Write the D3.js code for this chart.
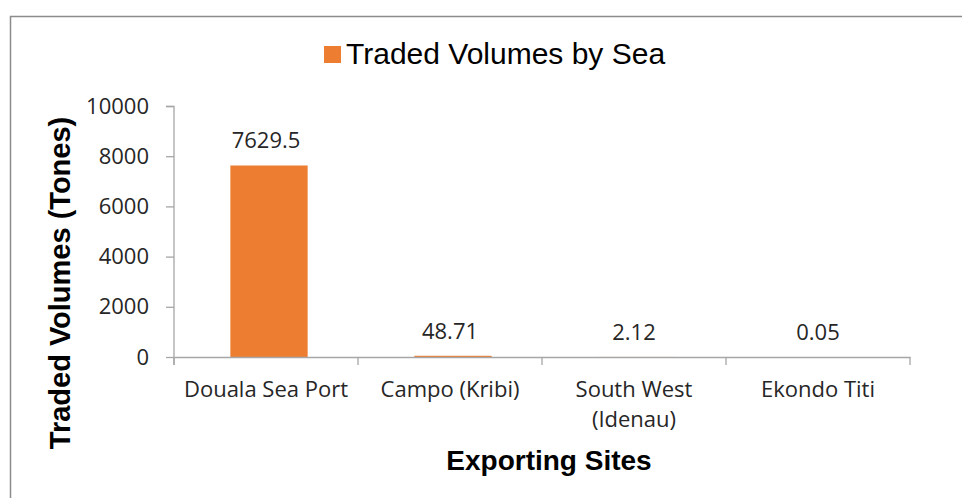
<!DOCTYPE html>
<html>
<head>
<meta charset="utf-8">
<script src="https://cdn.jsdelivr.net/npm/d3@7"></script>
<style>
  body { margin: 0; background: #fff; }
  svg { display: block; }
</style>
</head>
<body>
<div id="chart"></div>
<script>
// Data
var sites = ["Douala Sea Port", "Campo (Kribi)", "South West\n(Idenau)", "Ekondo Titi"];
var volumes = [7629.5, 48.71, 2.12, 0.05];
var volumeLabels = ["7629.5", "48.71", "2.12", "0.05"];
var yTicks = [0, 2000, 4000, 6000, 8000, 10000];

var W = 962, H = 498;
var margin = { top: 106, left: 174 },
    width = 910 - 174,
    height = 357 - 106;

var svg = d3.select("#chart").append("svg")
    .attr("width", W)
    .attr("height", H);

// Chart frame
svg.append("rect")
    .attr("x", 10.5).attr("y", 16.5)
    .attr("width", W).attr("height", H)
    .attr("fill", "none")
    .attr("stroke", "#8c8c8c")
    .attr("stroke-width", 1.5);

var g = svg.append("g")
    .attr("transform", "translate(" + margin.left + "," + margin.top + ")");

var x = d3.scaleBand().domain(sites).range([0, width]).padding(0);
var y = d3.scaleLinear().domain([0, 10000]).range([height, 0]);
var barW = x.bandwidth() * 0.42;

// Bars
g.selectAll(".bar")
    .data(volumes)
    .enter().append("rect")
    .attr("class", "bar")
    .attr("x", function (d, i) { return x(sites[i]) + (x.bandwidth() - barW) / 2 + 3; })
    .attr("width", barW)
    .attr("y", function (d) { return y(d); })
    .attr("height", function (d) { return height - y(d); })
    .attr("fill", "#ED7D31");

var fontTick = "'Open Sans', sans-serif";

// Y axis
var yAxis = g.append("g")
    .call(d3.axisLeft(y).tickValues(yTicks).tickSize(8).tickPadding(17).tickFormat(d3.format("d")));
yAxis.select(".domain").attr("stroke", "#a6a6a6").attr("stroke-width", 1.3)
    .attr("d", "M-8,0.5H0V" + (height + 8));
yAxis.selectAll(".tick line").attr("stroke", "#a6a6a6").attr("stroke-width", 1.3);
yAxis.selectAll(".tick text")
    .attr("fill", "#262626")
    .style("font-family", fontTick)
    .style("font-size", "22px");

// X axis
var xAxis = g.append("g")
    .attr("transform", "translate(0," + height + ")")
    .call(d3.axisBottom(x).tickSize(0).tickFormat(""));
xAxis.select(".domain").attr("stroke", "#a6a6a6").attr("stroke-width", 1.3);
xAxis.selectAll(".tick").remove();

// category boundary ticks
var bounds = sites.map(function (s) { return x(s); }).concat([width]);
xAxis.selectAll(".bound")
    .data(bounds)
    .enter().append("line")
    .attr("x1", function (d) { return d; })
    .attr("x2", function (d) { return d; })
    .attr("y1", 0).attr("y2", 8)
    .attr("stroke", "#a6a6a6").attr("stroke-width", 1.3);

// category labels
var catText = g.selectAll(".cat")
    .data(sites)
    .enter().append("text")
    .attr("class", "cat")
    .attr("x", function (d) { return x(d) + x.bandwidth() / 2; })
    .attr("y", height + 40)
    .attr("text-anchor", "middle")
    .attr("fill", "#262626")
    .style("font-family", fontTick)
    .style("font-size", "22px");
catText.each(function (d) {
    var t = d3.select(this);
    d.split("\n").forEach(function (line, i) {
        t.append("tspan")
            .attr("x", t.attr("x"))
            .attr("dy", i === 0 ? 0 : 30)
            .text(line);
    });
});

// value labels
g.selectAll(".val")
    .data(volumes)
    .enter().append("text")
    .attr("class", "val")
    .attr("x", function (d, i) { return x(sites[i]) + x.bandwidth() / 2; })
    .attr("y", function (d) { return y(d) - 17; })
    .attr("text-anchor", "middle")
    .attr("fill", "#262626")
    .style("font-family", fontTick)
    .style("font-size", "22px")
    .text(function (d, i) { return volumeLabels[i]; });

// axis titles
svg.append("text")
    .attr("x", 549)
    .attr("y", 470)
    .attr("text-anchor", "middle")
    .style("font-family", "'Liberation Sans', Arial, sans-serif")
    .style("font-weight", "bold")
    .style("font-size", "28px")
    .text("Exporting Sites");

svg.append("text")
    .attr("transform", "translate(70,283) rotate(-90)")
    .attr("text-anchor", "middle")
    .style("font-family", "'Liberation Sans', Arial, sans-serif")
    .style("font-weight", "bold")
    .style("font-size", "29px")
    .text("Traded Volumes (Tones)");

// legend
var legend = svg.append("g").attr("transform", "translate(324,46)");
legend.append("rect")
    .attr("width", 17).attr("height", 17)
    .attr("fill", "#ED7D31");
legend.append("text")
    .attr("x", 22)
    .attr("y", 18)
    .style("font-family", "'Liberation Sans', Arial, sans-serif")
    .style("font-size", "30px")
    .attr("fill", "#000")
    .text("Traded Volumes by Sea");
</script>
</body>
</html>
